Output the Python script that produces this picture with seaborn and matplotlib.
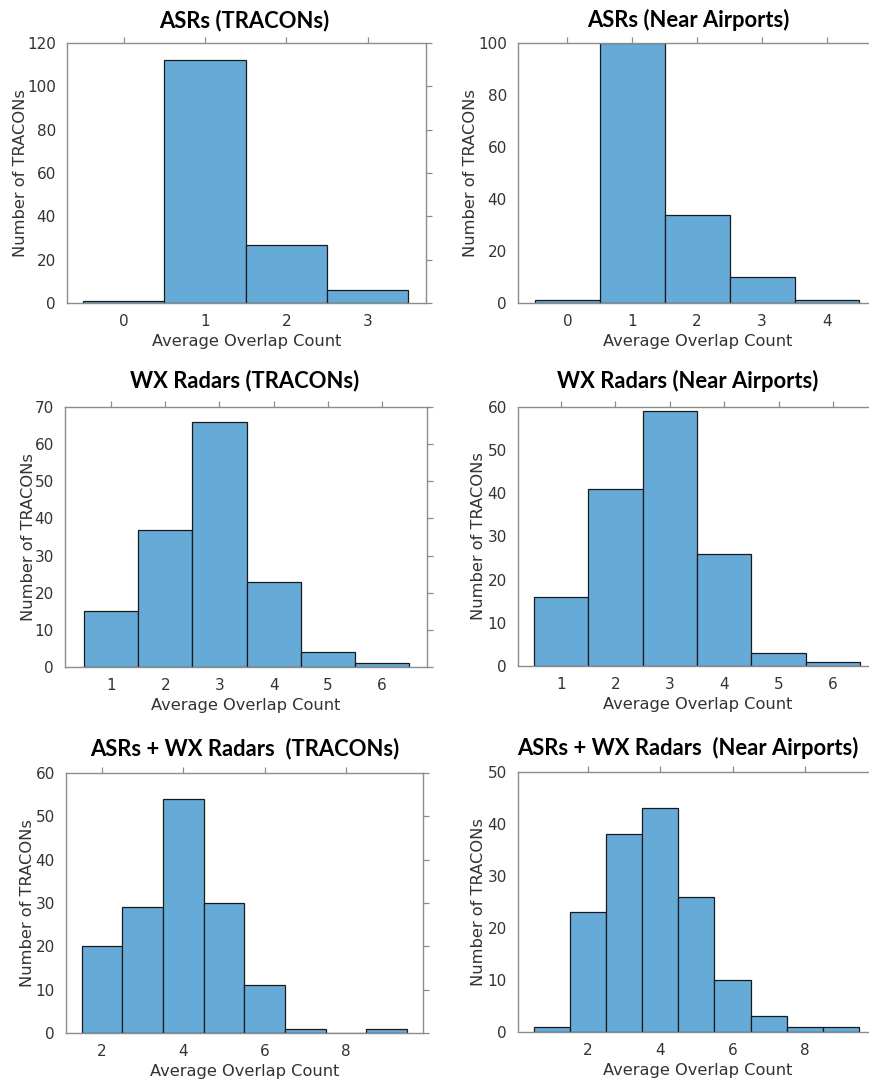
import matplotlib
matplotlib.use("Agg")
import matplotlib.pyplot as plt
import seaborn as sns

# Overlap-count bins (bin centres) and number of TRACONs in each bin
asr_tracon_bins = [0, 1, 2, 3]
asr_tracon_counts = [1, 112, 27, 6]

asr_airport_bins = [0, 1, 2, 3, 4]
asr_airport_counts = [1, 100, 34, 10, 1]

wx_tracon_bins = [1, 2, 3, 4, 5, 6]
wx_tracon_counts = [15, 37, 66, 23, 4, 1]

wx_airport_bins = [1, 2, 3, 4, 5, 6]
wx_airport_counts = [16, 41, 59, 26, 3, 1]

both_tracon_bins = [2, 3, 4, 5, 6, 7, 8, 9]
both_tracon_counts = [20, 29, 54, 30, 11, 1, 0, 1]

both_airport_bins = [1, 2, 3, 4, 5, 6, 7, 8, 9]
both_airport_counts = [1, 23, 38, 43, 26, 10, 3, 1, 1]

titles = [
    "ASRs (TRACONs)",
    "ASRs (Near Airports)",
    "WX Radars (TRACONs)",
    "WX Radars (Near Airports)",
    "ASRs + WX Radars  (TRACONs)",
    "ASRs + WX Radars  (Near Airports)",
]
x_label = "Average Overlap Count"
y_label = "Number of TRACONs"

sns.set_theme(style="white")
plt.rcParams["font.family"] = ["DejaVu Sans"]

W, H = 870, 1082
fig = plt.figure(figsize=(W / 100, H / 100), dpi=100)

BAR = "#66AAD7"
SPINE = "#8c8c8c"
TEXT = "#333333"

panels = [
    # bins, counts, (left, top, width, height) px, xlim, xticks, ylim, yticks,
    # ylabel x, title pad, title x
    (asr_tracon_bins, asr_tracon_counts, (67, 43, 359, 260), (-0.70, 3.72),
     [0, 1, 2, 3], 120, range(0, 121, 20), -0.108, 11.5, 0.495),
    (asr_airport_bins, asr_airport_counts, (518, 43, 359, 260), (-0.76, 4.77),
     [0, 1, 2, 3, 4], 100, range(0, 101, 20), -0.112, 11.5, 0.474),
    (wx_tracon_bins, wx_tracon_counts, (65, 407, 362, 260), (0.15, 6.83),
     [1, 2, 3, 4, 5, 6], 70, range(0, 71, 10), -0.081, 14, 0.497),
    (wx_airport_bins, wx_airport_counts, (518, 407, 359, 259), (0.21, 6.81),
     [1, 2, 3, 4, 5, 6], 60, range(0, 61, 10), -0.089, 14, 0.474),
    (both_tracon_bins, both_tracon_counts, (66, 773, 357, 260), (1.11, 9.9),
     [2, 4, 6, 8], 60, range(0, 61, 10), -0.087, 12.5, 0.501),
    (both_airport_bins, both_airport_counts, (518, 772, 359, 260), (0.06, 10.0),
     [2, 4, 6, 8], 50, range(0, 51, 10), -0.089, 12, 0.474),
]

for (bins, counts, (l, t, w, h), xlim, xticks, ymax, yticks, ylx, tpad, tx), title in zip(panels, titles):
    ax = fig.add_axes([l / W, 1 - (t + h) / H, w / W, h / H])
    sns.histplot(x=bins, weights=counts, discrete=True, ax=ax,
                 color=BAR, alpha=1.0, edgecolor="#1a1a1a", linewidth=0.9)
    ax.set_xlim(*xlim)
    ax.set_ylim(0, ymax)
    ax.set_xticks(xticks)
    ax.set_yticks(list(yticks))
    for s in ax.spines.values():
        s.set_visible(True)
        s.set_color(SPINE)
        s.set_linewidth(1.0)
    ax.tick_params(axis="both", which="major", direction="out", length=4, width=0.9,
                   color=SPINE, top=True, right=True, labeltop=False, labelright=False,
                   labelsize=11, labelcolor=TEXT, pad=4)
    ax.set_xlabel(x_label, fontsize=11.7, color=TEXT)
    ax.set_ylabel(y_label, fontsize=11.7, color=TEXT)
    ax.xaxis.set_label_coords(0.5, -31 / h)
    ax.xaxis.label.set_va("top")
    ax.yaxis.set_label_coords(ylx, 0.5)
    ax.set_title(title, family=["Lato", "DejaVu Sans"], fontweight="bold",
                 fontsize=15.8, color="black", pad=tpad, x=tx)
    ax.grid(False)

fig.savefig("out.png", dpi=100)
